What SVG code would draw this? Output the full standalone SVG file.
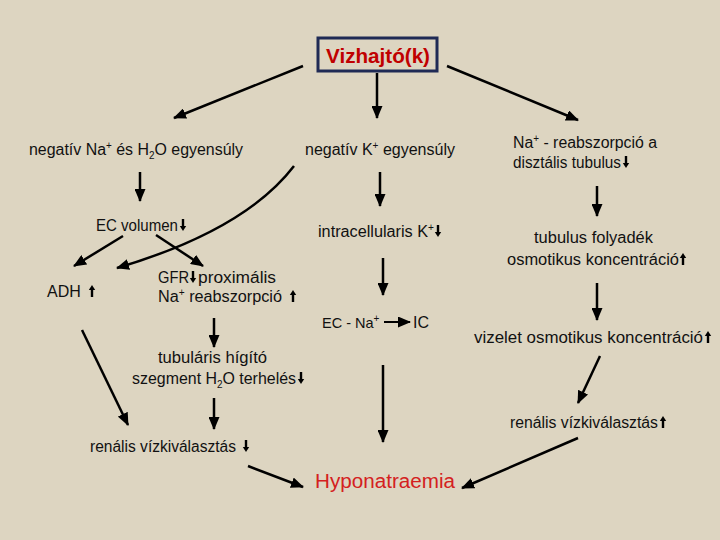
<svg xmlns="http://www.w3.org/2000/svg" width="720" height="540" viewBox="0 0 720 540">
<defs>
<marker id="ah" markerUnits="userSpaceOnUse" markerWidth="13" markerHeight="11" refX="12" refY="5.5" orient="auto">
<path d="M0,0 L13,5.5 L0,11 z" fill="#000"/>
</marker>
<g id="dn"><path d="M0,-12 L0,-4" stroke="#000" stroke-width="2.4"/><path d="M-3.2,-5 L3.2,-5 L0,0 z" fill="#000"/></g>
<g id="up"><path d="M0,0 L0,-8" stroke="#000" stroke-width="2.4"/><path d="M-3.2,-7 L3.2,-7 L0,-12 z" fill="#000"/></g>
</defs>
<style>
.t{font-family:"Liberation Sans",Arial,sans-serif;font-size:16px;fill:#111}
.c{stroke:#000;stroke-width:2.5;fill:none;marker-end:url(#ah)}
.sup{font-size:10px}
</style>
<rect width="720" height="540" fill="#ddd5c1"/>

<g id="title">
<rect x="318" y="38" width="119" height="33" fill="none" stroke="#1f2a55" stroke-width="3"/>
<text x="378" y="63" text-anchor="middle" textLength="104" lengthAdjust="spacingAndGlyphs" style="font-family:'Liberation Sans',Arial,sans-serif;font-size:20px;font-weight:bold;fill:#c00000">Vizhajtó(k)</text>
</g>

<g id="n_na_h2o"><text class="t" x="29" y="155" textLength="214" lengthAdjust="spacingAndGlyphs">negatív Na<tspan class="sup" dy="-6">+</tspan><tspan dy="6"> és H</tspan><tspan class="sup" dy="4">2</tspan><tspan dy="-4">O egyensúly</tspan></text></g>
<g id="n_k"><text class="t" x="305" y="155" textLength="150" lengthAdjust="spacingAndGlyphs">negatív K<tspan class="sup" dy="-6">+</tspan><tspan dy="6"> egyensúly</tspan></text></g>
<g id="n_distal"><text class="t" x="513" y="148" textLength="144" lengthAdjust="spacingAndGlyphs">Na<tspan class="sup" dy="-6">+</tspan><tspan dy="6"> - reabszorpció a</tspan></text><text class="t" x="513" y="168" textLength="108" lengthAdjust="spacingAndGlyphs">disztális tubulus</text><use href="#dn" x="626" y="168"/></g>

<g id="n_ecvol"><text class="t" x="96" y="231" textLength="82" lengthAdjust="spacingAndGlyphs">EC volumen</text><use href="#dn" x="183" y="231"/></g>
<g id="n_icK"><text class="t" x="318" y="237" textLength="116" lengthAdjust="spacingAndGlyphs">intracellularis K<tspan class="sup" dy="-6">+</tspan></text><use href="#dn" x="438" y="237"/></g>
<g id="n_tubfoly"><text class="t" x="534" y="243" textLength="119" lengthAdjust="spacingAndGlyphs">tubulus folyadék</text><text class="t" x="507" y="265" textLength="172" lengthAdjust="spacingAndGlyphs">osmotikus koncentráció</text><use href="#up" x="683" y="265"/></g>

<g id="n_adh"><text class="t" x="47" y="297">ADH</text><use href="#up" x="92" y="297"/></g>
<g id="n_gfr"><text class="t" x="158" y="283" textLength="31" lengthAdjust="spacingAndGlyphs">GFR</text><use href="#dn" x="193" y="283"/><text class="t" x="198" y="283" textLength="78" lengthAdjust="spacingAndGlyphs">proximális</text><text class="t" x="158" y="302" textLength="124" lengthAdjust="spacingAndGlyphs">Na<tspan class="sup" dy="-6">+</tspan><tspan dy="6"> reabszorpció</tspan></text><use href="#up" x="293" y="302"/></g>

<g id="n_ecna"><text class="t" x="322" y="328" style="font-size:14.5px">EC - Na<tspan class="sup" dy="-6">+</tspan></text><text class="t" x="413" y="328">IC</text></g>
<g id="n_vizelet"><text class="t" x="474" y="343" textLength="229" lengthAdjust="spacingAndGlyphs">vizelet osmotikus koncentráció</text><use href="#up" x="708" y="343"/></g>

<g id="n_tubhig"><text class="t" x="158" y="363" textLength="109" lengthAdjust="spacingAndGlyphs">tubuláris hígító</text><text class="t" x="132" y="384" textLength="164" lengthAdjust="spacingAndGlyphs">szegment H<tspan class="sup" dy="4">2</tspan><tspan dy="-4">O terhelés</tspan></text><use href="#dn" x="301" y="384"/></g>

<g id="n_ren_up"><text class="t" x="510" y="428" textLength="148" lengthAdjust="spacingAndGlyphs">renális vízkiválasztás</text><use href="#up" x="663" y="428"/></g>
<g id="n_ren_dn"><text class="t" x="90" y="452" textLength="146" lengthAdjust="spacingAndGlyphs">renális vízkiválasztás</text><use href="#dn" x="246" y="452"/></g>

<g id="n_hypo"><text x="315" y="488" textLength="140" lengthAdjust="spacingAndGlyphs" style="font-family:'Liberation Sans',Arial,sans-serif;font-size:20px;fill:#d42020">Hyponatraemia</text></g>

<g id="connectors">
<path class="c" d="M303,66 L174,118"/>
<path class="c" d="M377,73 L377,118"/>
<path class="c" d="M447,66 L578,120"/>
<path class="c" d="M140,172 L140,201"/>
<path class="c" d="M380,172 L380,206"/>
<path class="c" d="M597,186 L597,216"/>
<path class="c" d="M294,166 Q245,230 117,268"/>
<path class="c" d="M123,236 L74,266"/>
<path class="c" d="M156,235 L203,266"/>
<path class="c" d="M383,258 L383,295"/>
<path class="c" d="M384,322 L410,322" style="stroke-width:2"/>
<path class="c" d="M597,283 L597,320"/>
<path class="c" d="M214,318 L214,347"/>
<path class="c" d="M82,330 L128,425"/>
<path class="c" d="M214,398 L214,429"/>
<path class="c" d="M600,356 L578,403"/>
<path class="c" d="M383,365 L383,442"/>
<path class="c" d="M248,466 L303,487"/>
<path class="c" d="M578,438 L462,488"/>
</g>
</svg>
